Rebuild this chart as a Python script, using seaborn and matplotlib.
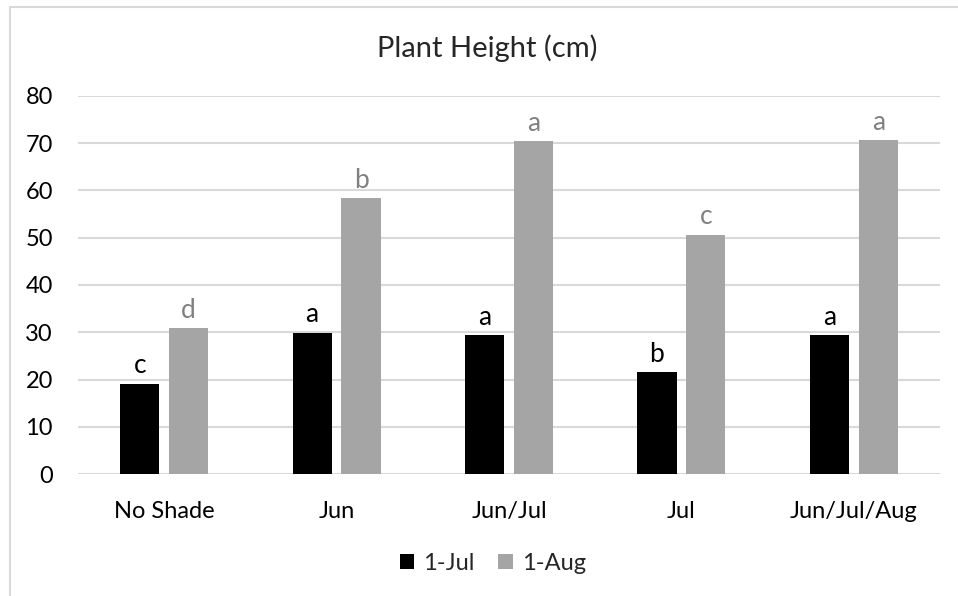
import matplotlib
matplotlib.use("Agg")
import matplotlib.pyplot as plt
import pandas as pd
import seaborn as sns
from matplotlib.patches import Rectangle

sns.set_style("white")
plt.rcParams['font.family'] = ['Lato', 'DejaVu Sans']

# data
treatments = ['No Shade', 'Jun', 'Jun/Jul', 'Jul', 'Jun/Jul/Aug']
height_jul = [19.1, 29.9, 29.4, 21.6, 29.4]
height_aug = [30.9, 58.3, 70.4, 50.6, 70.6]
letters_jul = ['c', 'a', 'a', 'b', 'a']
letters_aug = ['d', 'b', 'a', 'c', 'a']
dates = ['1-Jul', '1-Aug']

df = pd.DataFrame({
    'treatment': treatments * 2,
    'height': height_jul + height_aug,
    'date': [dates[0]] * len(treatments) + [dates[1]] * len(treatments),
})

fig = plt.figure(figsize=(9.58, 5.96), dpi=100)
ax = fig.add_axes([78 / 958, 1 - 474.3 / 596, (940 - 78) / 958, (474.3 - 95.7) / 596])

sns.barplot(data=df, x='treatment', y='height', hue='date', order=treatments,
            hue_order=dates, palette=['#000000', '#a5a5a5'], width=0.567, gap=0.2,
            saturation=1, errorbar=None, linewidth=0, ax=ax, legend=True)

ax.set_ylim(0, 80)
ax.set_yticks(range(0, 81, 10))
ax.yaxis.grid(True, color='#d9d9d9', linewidth=1.5)
ax.set_axisbelow(True)
for s in ax.spines.values():
    s.set_visible(False)
ax.tick_params(axis='both', length=0, labelsize=17, colors='#000000')
ax.tick_params(axis='x', pad=19)
ax.tick_params(axis='y', pad=18)
ax.set_xlabel('')
ax.set_ylabel('')

# significance letters
ax.bar_label(ax.containers[0], labels=letters_jul, padding=4, fontsize=19, color='#000000')
ax.bar_label(ax.containers[1], labels=letters_aug, padding=4, fontsize=19, color='#808080')

fig.text(487 / 958, 1 - 48 / 596, 'Plant Height (cm)', ha='center', va='center', fontsize=21)

ax.legend(loc='center', bbox_to_anchor=(493 / 958, 1 - 563 / 596), bbox_transform=fig.transFigure,
          ncol=2, frameon=False, fontsize=17, handlelength=0.6, handleheight=0.6,
          handletextpad=0.4, columnspacing=1.0)

# chart border (cropped)
fig.patches.append(Rectangle((10 / 958, -0.1), 1.2, 1 - 7 / 596 + 0.1, transform=fig.transFigure,
                             fill=False, edgecolor='#d9d9d9', linewidth=1.5))

fig.savefig('out.png', dpi=100)
